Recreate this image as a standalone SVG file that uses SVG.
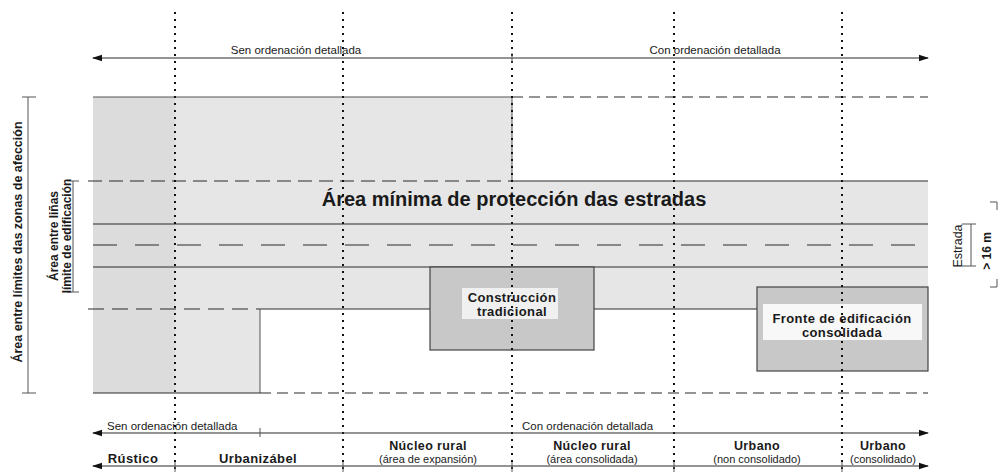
<svg xmlns="http://www.w3.org/2000/svg" width="998" height="475" viewBox="0 0 998 475">
<style>
text{font-family:"Liberation Sans",Arial,sans-serif;fill:#1a1a1a}
.sm{font-size:11.5px}
.b{font-weight:bold}
.lbl{font-size:13px;font-weight:bold;letter-spacing:0.4px}
.top{font-size:12.5px;font-weight:bold;letter-spacing:0.4px}
.sub{font-size:11px}
.ln{stroke:#2a2a2a;stroke-width:1.2;fill:none}
.thin{stroke:#555;stroke-width:1;fill:none}
.dot{stroke:#111;stroke-width:2;stroke-dasharray:2 5;fill:none}
.shade{fill:#e6e6e6}
.box{fill:#c8c8c8;stroke:#444;stroke-width:1.2}
</style>
<defs>
<marker id="ah" viewBox="0 0 10 8" refX="9" refY="4" markerWidth="10" markerHeight="8" markerUnits="userSpaceOnUse" orient="auto-start-reverse">
<path d="M0,0.8 L10,4 L0,7.2 Z" fill="#111"/>
</marker>
</defs>

<g id="shading">
<rect class="shade" x="93" y="97" width="419" height="84"/>
<rect class="shade" x="93" y="181" width="835" height="128"/>
<rect class="shade" x="93" y="309" width="167" height="84"/>
<rect x="93" y="97" width="82" height="296" fill="#dcdcdc"/>
</g>

<g id="road-lines">
<path class="thin" d="M93,97 H512 V181"/>
<path class="ln" d="M512,97 H928" stroke-dasharray="11 6"/>
<path class="ln" d="M88,181 H512" stroke-dasharray="14 7"/>
<path class="ln" d="M512,181 H928"/>
<path class="ln" d="M93,224 H928"/>
<path class="ln" d="M93,245 H928" stroke-dasharray="24 18"/>
<path class="ln" d="M93,267 H928"/>
<path class="ln" d="M88,309 H260" stroke-dasharray="16 8"/>
<path class="ln" d="M260,309 H430 M594,309 H757"/>
<path class="thin" d="M260,309 V393"/>
<path class="ln" d="M93,393 H260"/>
<path class="ln" d="M260,393 H928" stroke-dasharray="11 6"/>
</g>

<g id="node-construccion">
<rect class="box" x="430" y="267" width="164" height="83"/>
<rect x="462" y="288" width="96" height="31" fill="#f0f0f0"/>
<text class="lbl" x="512" y="302" text-anchor="middle">Construcción</text>
<text class="lbl" x="512" y="316" text-anchor="middle">tradicional</text>
</g>

<g id="node-fronte">
<rect class="box" x="757" y="287" width="171" height="84"/>
<rect x="763" y="304" width="159" height="36" fill="#f8f8f8"/>
<text class="lbl" x="842" y="323" text-anchor="middle">Fronte de edificación</text>
<text class="lbl" x="842" y="337" text-anchor="middle">consolidada</text>
</g>

<g id="title">
<text x="514" y="206" text-anchor="middle" font-size="20" font-weight="bold">Área mínima de protección das estradas</text>
</g>

<g id="dotted-boundaries">
<path class="dot" d="M175,12 V472 M343,12 V472 M512,12 V472 M674,12 V472 M842,12 V472"/>
</g>

<g id="connectors">
<path class="ln" d="M93,58 H928" marker-start="url(#ah)" marker-end="url(#ah)"/>
<path class="thin" d="M512,53 V63"/>
<path class="ln" d="M93,433 H928" marker-start="url(#ah)" marker-end="url(#ah)"/>
<path class="thin" d="M260,428 V437"/>
<path class="ln" d="M93,466 H928" marker-start="url(#ah)" marker-end="url(#ah)"/>
<path class="thin" d="M175,462 V472 M343,462 V472 M512,462 V472 M674,462 V472 M842,462 V472"/>
<path class="thin" d="M28,97 V393 M22,97 H36 M22,393 H36"/>
<path class="thin" d="M73,181 V292 M67,181 H79 M67,292 H79"/>
<path class="thin" d="M971,224 V266 M962,224 H976 M962,266 H976"/>
<path class="thin" d="M990,202 H997 V210 M990,287 H997 V279"/>
</g>

<g id="top-labels">
<text class="sm" x="296" y="54" text-anchor="middle">Sen ordenación detallada</text>
<text class="sm" x="715" y="54" text-anchor="middle">Con ordenación detallada</text>
</g>

<g id="side-labels">
<text class="b" font-size="12.5" transform="translate(22,242) rotate(-90)" text-anchor="middle">Área entre límites das zonas de afección</text>
<text class="b" font-size="12" transform="translate(58,236) rotate(-90)" text-anchor="middle">Área entre liñas</text>
<text class="b" font-size="12" transform="translate(71,236) rotate(-90)" text-anchor="middle">límite de edificación</text>
<text font-size="12.5" transform="translate(962,246) rotate(-90)" text-anchor="middle">Estrada</text>
<text class="b" font-size="12" transform="translate(991,251) rotate(-90)" text-anchor="middle">&gt; 16 m</text>
</g>

<g id="bottom-labels">
<text class="sm" x="107" y="430">Sen ordenación detallada</text>
<text class="sm" x="522" y="430">Con ordenación detallada</text>
<text class="lbl" x="133" y="463" text-anchor="middle">Rústico</text>
<text class="lbl" x="258" y="463" text-anchor="middle">Urbanizábel</text>
<text class="top" x="428" y="450" text-anchor="middle">Núcleo rural</text>
<text class="sub" x="428" y="463" text-anchor="middle">(área de expansión)</text>
<text class="top" x="592" y="450" text-anchor="middle">Núcleo rural</text>
<text class="sub" x="592" y="463" text-anchor="middle">(área consolidada)</text>
<text class="top" x="757" y="450" text-anchor="middle">Urbano</text>
<text class="sub" x="757" y="463" text-anchor="middle">(non consolidado)</text>
<text class="top" x="883" y="450" text-anchor="middle">Urbano</text>
<text class="sub" x="883" y="463" text-anchor="middle">(consolidado)</text>
</g>
</svg>
